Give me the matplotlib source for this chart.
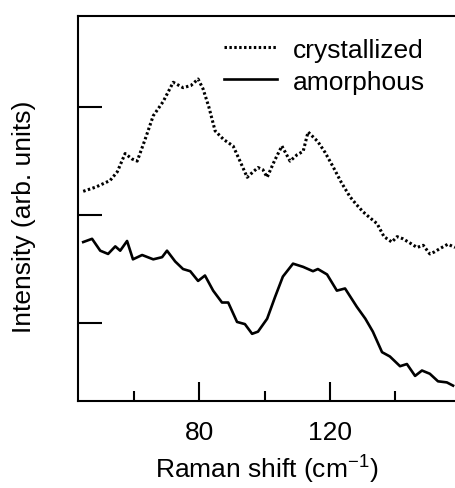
import numpy as np
import matplotlib
matplotlib.use("Agg")
import matplotlib.pyplot as plt
from matplotlib.ticker import MultipleLocator

plt.rcParams['font.family'] = ['Liberation Sans', 'DejaVu Sans']
plt.rcParams['mathtext.fontset'] = 'custom'
plt.rcParams['mathtext.rm'] = 'Liberation Sans'

# --- data (arb. units) ---
cryst_x = [44.6, 48.5, 52.8, 55.0, 57.4, 59.5, 61.1, 63.5, 66.0, 69.0, 72.1, 75.1,
           77.5, 79.7, 81.2, 83.0, 84.9, 87.5, 90.4, 92.5, 94.7, 96.5, 98.0, 99.5,
           100.8, 103.0, 105.3, 107.8, 110.0, 111.8, 113.3, 116.3, 118.5, 120.9,
           123.5, 126.1, 128.0, 130.1, 132.0, 134.4, 136.5, 138.9, 140.5, 142.3,
           144.5, 146.6, 148.5, 150.5, 152.0, 153.6, 156.0, 158.2]
cryst_y = [2.22, 2.26, 2.32, 2.40, 2.57, 2.52, 2.50, 2.70, 2.92, 3.05, 3.23, 3.18,
           3.20, 3.26, 3.17, 3.00, 2.78, 2.70, 2.64, 2.50, 2.35, 2.40, 2.44, 2.42,
           2.35, 2.50, 2.64, 2.50, 2.56, 2.59, 2.77, 2.68, 2.58, 2.45,
           2.30, 2.17, 2.10, 2.03, 1.98, 1.92, 1.80, 1.75, 1.80, 1.78,
           1.74, 1.70, 1.72, 1.64, 1.66, 1.69, 1.73, 1.70]

amorph_x = [44.6, 47.3, 49.8, 52.2, 54.4, 55.9, 58.0, 59.8, 62.6, 66.0, 68.7, 70.2,
            72.7, 75.1, 77.3, 79.7, 81.8, 84.3, 87.0, 88.9, 91.6, 94.0, 96.2, 98.0,
            100.8, 103.2, 105.6, 108.7, 111.8, 114.8, 116.3, 119.1, 122.1, 124.6,
            128.2, 130.8, 133.1, 135.9, 138.3, 141.4, 143.5, 146.0, 148.1, 150.5,
            153.0, 155.7, 157.6]
amorph_y = [1.75, 1.78, 1.67, 1.64, 1.71, 1.67, 1.76, 1.59, 1.63, 1.59, 1.61, 1.67,
            1.57, 1.50, 1.48, 1.39, 1.44, 1.30, 1.19, 1.19, 1.01, 0.99, 0.90, 0.92,
            1.04, 1.24, 1.43, 1.55, 1.52, 1.48, 1.50, 1.45, 1.30, 1.32,
            1.15, 1.04, 0.92, 0.73, 0.69, 0.60, 0.62, 0.51, 0.56, 0.53,
            0.46, 0.45, 0.42]

# --- figure ---
fig = plt.figure(figsize=(4.56, 4.89), dpi=100)
ax = fig.add_axes([0.171, 0.178, 0.829, 0.787])

ax.plot(cryst_x, cryst_y, color='black', lw=2.2, linestyle=(0, (0.8, 0.8)), label='crystallized')
ax.plot(amorph_x, amorph_y, color='black', lw=1.9, label='amorphous')

ax.set_xlim(43, 158.5)
ax.set_ylim(0.278, 3.843)

ax.xaxis.set_major_locator(MultipleLocator(40))
ax.xaxis.set_minor_locator(MultipleLocator(20))
ax.yaxis.set_major_locator(MultipleLocator(1))
ax.set_yticklabels([])

ax.tick_params(axis='both', which='major', direction='in', length=14, width=1.5,
               labelsize=19, pad=14)
ax.tick_params(axis='x', which='minor', direction='in', length=7, width=1.5)
ax.tick_params(axis='y', which='both', direction='in', length=17, width=1.5)

for s in ['left', 'bottom', 'top']:
    ax.spines[s].set_linewidth(1.5)
ax.spines['right'].set_visible(False)

ax.set_xlabel('Raman shift (cm$^{\\mathregular{-1}}$)', fontsize=19, labelpad=5)
ax.set_ylabel('Intensity (arb. units)', fontsize=19)
ax.yaxis.set_label_coords(-0.11, 0.48)

ax.legend(loc='upper right', frameon=False, fontsize=19, handlelength=2.0,
          handletextpad=0.6, labelspacing=0.3, borderaxespad=0.2,
          bbox_to_anchor=(0.96, 0.985))

fig.savefig('out.png', dpi=100)
